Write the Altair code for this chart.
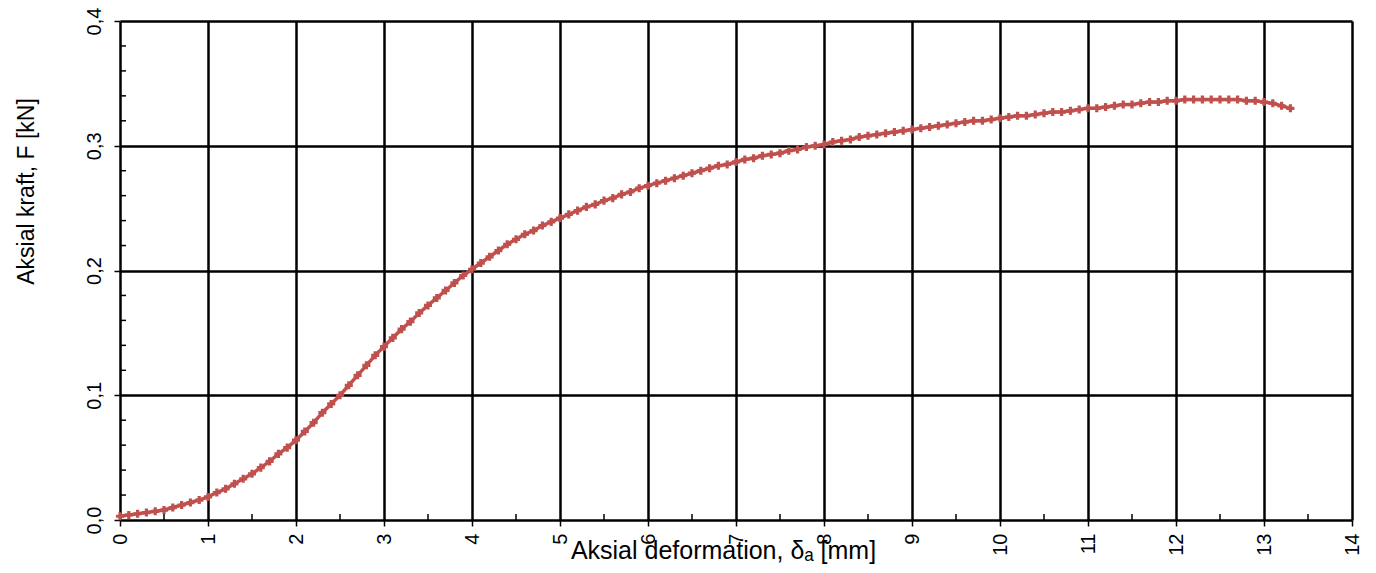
import altair as alt
import pandas as pd

# Axial deformation (mm) and axial force (kN)
x_vals = [0.0, 0.1, 0.2, 0.3, 0.4, 0.5, 0.6, 0.7, 0.8, 0.9,
          1.0, 1.1, 1.2, 1.3, 1.4, 1.5, 1.6, 1.7, 1.8, 1.9,
          2.0, 2.1, 2.2, 2.3, 2.4, 2.5, 2.6, 2.7, 2.8, 2.9,
          3.0, 3.1, 3.2, 3.3, 3.4, 3.5, 3.6, 3.7, 3.8, 3.9,
          4.0, 4.1, 4.2, 4.3, 4.4, 4.5, 4.6, 4.7, 4.8, 4.9,
          5.0, 5.1, 5.2, 5.3, 5.4, 5.5, 5.6, 5.7, 5.8, 5.9,
          6.0, 6.1, 6.2, 6.3, 6.4, 6.5, 6.6, 6.7, 6.8, 6.9,
          7.0, 7.1, 7.2, 7.3, 7.4, 7.5, 7.6, 7.7, 7.8, 7.9,
          8.0, 8.1, 8.2, 8.3, 8.4, 8.5, 8.6, 8.7, 8.8, 8.9,
          9.0, 9.1, 9.2, 9.3, 9.4, 9.5, 9.6, 9.7, 9.8, 9.9,
          10.0, 10.1, 10.2, 10.3, 10.4, 10.5, 10.6, 10.7, 10.8, 10.9,
          11.0, 11.1, 11.2, 11.3, 11.4, 11.5, 11.6, 11.7, 11.8, 11.9,
          12.0, 12.1, 12.2, 12.3, 12.4, 12.5, 12.6, 12.7, 12.8, 12.9,
          13.0, 13.1, 13.2, 13.3]
y_vals = [0.003, 0.004, 0.005, 0.006, 0.007, 0.008, 0.010, 0.012, 0.014, 0.016,
          0.0185, 0.022, 0.025, 0.029, 0.033, 0.037, 0.042, 0.047, 0.053, 0.058,
          0.064, 0.071, 0.078, 0.086, 0.093, 0.100, 0.108, 0.116, 0.124, 0.132,
          0.139, 0.146, 0.153, 0.159, 0.166, 0.172, 0.178, 0.184, 0.190, 0.196,
          0.201, 0.206, 0.211, 0.216, 0.221, 0.225, 0.229, 0.232, 0.236, 0.239,
          0.242, 0.245, 0.248, 0.251, 0.253, 0.256, 0.258, 0.261, 0.263, 0.266,
          0.268, 0.270, 0.272, 0.274, 0.276, 0.278, 0.280, 0.282, 0.284, 0.285,
          0.287, 0.289, 0.290, 0.292, 0.293, 0.294, 0.296, 0.297, 0.299, 0.300,
          0.301, 0.303, 0.304, 0.305, 0.307, 0.308, 0.309, 0.310, 0.311, 0.312,
          0.313, 0.314, 0.315, 0.316, 0.317, 0.318, 0.319, 0.320, 0.320, 0.321,
          0.322, 0.323, 0.324, 0.324, 0.325, 0.326, 0.327, 0.327, 0.328, 0.329,
          0.330, 0.330, 0.331, 0.332, 0.333, 0.333, 0.334, 0.335, 0.335, 0.336,
          0.336, 0.337, 0.337, 0.337, 0.337, 0.337, 0.337, 0.337, 0.336, 0.336,
          0.335, 0.334, 0.332, 0.330]

x_ticks = list(range(0, 15))
y_ticks = [0.0, 0.1, 0.2, 0.3, 0.4]
x_minor = [0.5 + i for i in range(14)]
y_minor = [0.02, 0.04, 0.06, 0.08, 0.12, 0.14, 0.16, 0.18,
           0.22, 0.24, 0.26, 0.28, 0.32, 0.34, 0.36, 0.38]

FONT = "Liberation Sans"
RED = "#C0504D"
W, H = 1232, 499

df = pd.DataFrame({"x": x_vals, "y": y_vals})
xs = alt.Scale(domain=[0, 14], nice=False)
ys = alt.Scale(domain=[0, 0.4], nice=False)

x_axis = alt.Axis(values=x_ticks, grid=True, gridColor="black", gridWidth=2.5,
                  domain=False, ticks=True, tickSize=6, tickColor="black", tickWidth=1.5,
                  format="d",
                  labelAngle=270, labelAlign="right", labelBaseline="middle",
                  labelPadding=7, labelFont=FONT, labelFontSize=20, labelColor="black",
                  title="Aksial deformation, δₐ [mm]", titleFont=FONT, titleFontSize=25,
                  titleFontWeight="normal", titleColor="black",
                  titleY=38, titleBaseline="alphabetic", titleAlign="center", titleX=603)
y_axis = alt.Axis(values=y_ticks, grid=True, gridColor="black", gridWidth=2.5,
                  domain=False, ticks=True, tickSize=6, tickColor="black", tickWidth=1.5,
                  labelExpr="replace(format(datum.value, '.1f'), '.', ',')",
                  labelAngle=270, labelAlign="center", labelBaseline="alphabetic",
                  labelPadding=14, labelFont=FONT, labelFontSize=20, labelColor="black",
                  title="Aksial kraft, F [kN]", titleFont=FONT, titleFontSize=23,
                  titleFontWeight="normal", titleColor="black",
                  titleAngle=270, titleAlign="center", titleBaseline="alphabetic",
                  titleX=-87, titleY=170)

base = alt.Chart(df)
line = base.mark_line(color=RED, strokeWidth=3.5).encode(
    x=alt.X("x:Q", scale=xs, axis=x_axis),
    y=alt.Y("y:Q", scale=ys, axis=y_axis),
)
pts = base.mark_point(shape="cross", filled=True, color=RED, size=65, opacity=1).encode(
    x=alt.X("x:Q", scale=xs),
    y=alt.Y("y:Q", scale=ys),
)

minor_x = alt.Chart(pd.DataFrame({"m": x_minor})).mark_rule(color="black", strokeWidth=1.5).encode(
    x=alt.X("m:Q", scale=xs),
    y=alt.value(H), y2=alt.value(H - 6),
)
minor_y = alt.Chart(pd.DataFrame({"m": y_minor})).mark_rule(color="black", strokeWidth=1.5).encode(
    y=alt.Y("m:Q", scale=ys),
    x=alt.value(0), x2=alt.value(6),
)

chart = alt.layer(line, pts, minor_x, minor_y).properties(
    width=W, height=H,
    autosize=alt.AutoSizeParams(type="none"),
    padding={"left": 120, "top": 21, "right": 24, "bottom": 53},
).configure_view(stroke="black", strokeWidth=3).configure(background="white")

chart.save("out.html", embed_options={"renderer": "svg", "actions": False})
